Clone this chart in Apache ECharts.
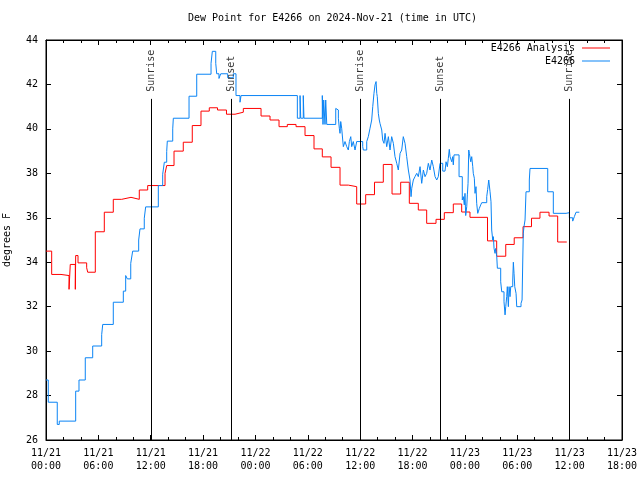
<!DOCTYPE html>
<html>
<head>
<meta charset="utf-8">
<script src="https://cdn.jsdelivr.net/npm/echarts@6/dist/echarts.min.js"></script>
<style>html,body{margin:0;padding:0;background:#fff}#c{width:640px;height:480px}</style>
</head>
<body>
<div id="c"></div>
<script>
// hours since 2024-11-21 00:00 UTC
const xTickDates = ['11/21','11/21','11/21','11/21','11/22','11/22','11/22','11/22','11/23','11/23','11/23','11/23'];
const xTickTimes = ['00:00','06:00','12:00','18:00','00:00','06:00','12:00','18:00','00:00','06:00','12:00','18:00'];

const analysisHours = [0,0.65,1.72,2.64,2.78,3.36,3.40,3.67,4.66,4.78,5.65,6.68,7.71,8.67,9.74,10.69,11.65,13.64,13.83,14.67,15.73,16.76,17.76,18.71,19.65,20.68,21.66,22.61,24.64,25.67,26.70,27.65,28.65,29.68,30.71,31.66,32.66,33.69,34.64,35.60,36.63,37.64,38.65,39.65,40.64,41.63,42.66,43.62,44.69,45.64,46.67,47.63,48.58,50.59,51.64,52.68,53.65,54.66,55.63,56.60,57.64,58.63,59.67];
const analysisValues = [34.5,33.45,33.4,32.78,33.9,32.78,34.3,33.97,33.75,33.55,35.37,36.25,36.83,36.92,36.83,37.25,37.45,38.0,38.35,39.0,39.4,40.15,40.8,40.95,40.85,40.66,40.75,40.92,40.58,40.4,40.1,40.2,40.1,39.7,39.1,38.74,38.27,37.47,37.4,36.62,37.04,37.6,38.4,37.07,37.6,36.65,36.35,35.75,35.93,36.23,36.62,36.26,36.02,34.96,34.27,34.8,35.1,35.6,35.98,36.25,36.08,34.91,34.91];

const obsHours = [0,0.26,1.29,1.52,3.40,3.78,4.50,5.35,6.38,6.50,7.71,8.86,9.13,9.32,9.71,9.93,10.62,10.77,11.26,11.42,12.87,13.37,13.56,13.83,13.90,14.52,14.59,16.39,17.27,18.91,19.06,19.45,19.56,19.82,20.02,20.82,21.46,21.77,22.23,22.35,28.80,29.11,29.19,29.48,29.56,31.66,31.74,31.82,31.97,32.05,32.17,33.20,33.31,33.50,33.61,33.69,33.77,33.88,34.00,34.07,34.26,34.46,34.64,34.76,34.92,35.03,35.21,35.41,35.60,36.29,36.36,36.75,36.93,37.13,37.32,37.44,37.58,37.70,37.82,37.90,37.96,38.08,38.19,38.27,38.47,38.58,38.73,38.85,39.04,39.23,39.42,39.61,39.80,39.99,40.19,40.37,40.57,40.76,40.94,41.14,41.33,41.52,41.71,41.83,41.91,42.09,42.28,42.48,42.66,42.86,43.05,43.24,43.43,43.62,43.81,44.00,44.20,44.38,44.58,44.77,44.95,45.15,45.46,45.72,45.84,45.99,46.10,46.21,46.30,46.37,46.49,46.60,46.67,46.75,47.33,47.70,47.82,47.93,48.01,48.09,48.21,48.28,48.36,48.44,48.51,48.59,48.67,48.78,48.90,48.96,49.08,49.16,49.27,49.35,49.47,49.58,49.65,49.81,49.93,50.50,50.61,50.73,50.88,50.99,51.07,51.19,51.26,51.34,51.45,51.53,51.65,51.72,52.10,52.22,52.48,52.60,52.68,52.79,52.86,52.98,53.06,53.17,53.25,53.48,53.55,53.63,53.71,53.86,53.94,54.43,54.55,54.63,54.69,54.77,54.89,55.00,55.38,55.46,57.49,58.13,59.59,59.97,60.35,60.54,60.73,61.11];
const obsValues = [28.7,27.7,26.7,26.85,28.2,28.7,29.7,30.23,30.74,31.2,32.2,32.7,33.4,33.25,33.95,34.5,35.0,35.5,35.98,36.49,37.45,37.96,38.5,38.98,39.45,40.0,40.48,41.47,42.46,42.95,43.49,42.95,42.48,42.27,42.48,42.3,42.48,41.5,41.2,41.5,40.48,41.5,40.48,41.5,40.48,41.5,40.2,41.3,40.2,41.3,40.2,40.92,40.85,40.48,40.03,39.8,40.33,40.03,39.5,39.2,39.43,39.2,39.05,39.43,39.65,39.2,39.43,39.05,39.43,39.2,39.05,39.43,39.65,40.03,40.4,41.0,41.6,41.98,42.13,41.6,41.45,40.7,40.4,40.25,39.95,39.5,39.35,39.8,39.2,39.65,39.05,39.65,39.35,38.75,38.45,38.15,38.9,39.05,39.65,39.35,38.75,38.15,37.7,36.95,37.33,37.7,37.85,38.0,37.85,38.3,37.55,38.15,37.85,38.0,38.45,38.15,38.6,38.3,37.85,37.7,37.85,38.45,38.1,38.15,38.52,38.3,38.67,39.08,38.75,38.67,38.52,38.75,38.38,38.83,37.85,36.8,36.95,36.58,37.1,36.1,36.5,37.03,37.55,39.05,38.9,38.98,38.52,38.75,38.3,38.0,37.78,37.1,37.4,36.65,36.2,36.27,36.42,36.58,36.68,36.95,37.28,37.7,37.17,36.72,35.45,35.0,35.15,34.62,34.4,34.62,34.25,33.73,33.12,32.67,32.22,31.63,32.0,32.45,32.9,32.0,32.9,32.45,32.9,33.2,34.0,33.5,32.9,32.6,32.0,32.15,32.3,34.1,35.3,35.6,35.9,37.17,37.7,38.22,37.17,36.2,36.23,36.0,35.85,36.05,36.25,36.25];

const sunHours = [12.03, 21.2, 36.05, 45.18, 60.0];
const sunNames = ['Sunrise','Sunset','Sunrise','Sunset','Sunrise'];
const yTicks = [26,28,30,32,34,36,38,40,42,44];

const FONT = 'DejaVu Sans Mono';
const zip = (a, b) => a.map((h, i) => [h, b[i]]);

const chart = echarts.init(document.getElementById('c'), null, {renderer: 'canvas'});
const xBase = {
  type: 'value', min: 0, max: 66, interval: 6,
  axisLine: {show: true, onZero: false, lineStyle: {color: '#000', width: 1}},
  axisTick: {show: true, inside: true, length: 5, lineStyle: {color: '#000'}},
  minorTick: {show: true, splitNumber: 3, length: 3, lineStyle: {color: '#000'}},
  splitLine: {show: false}
};
const yBase = {
  type: 'value', min: yTicks[0], max: yTicks[yTicks.length - 1], interval: 2,
  axisLine: {show: true, onZero: false, lineStyle: {color: '#000', width: 1}},
  axisTick: {show: true, inside: true, length: 5, lineStyle: {color: '#000'}},
  splitLine: {show: false}
};
const legendBase = {
  right: 30, padding: 0, align: 'right', icon: 'rect', itemWidth: 28, itemHeight: 1,
  textStyle: {fontFamily: FONT, fontSize: 10, color: '#000', padding: [0, 2, 0, 0]}
};
chart.setOption({
  animation: false,
  backgroundColor: '#fff',
  title: {
    text: 'Dew Point for E4266 on 2024-Nov-21 (time in UTC)',
    left: 188, top: 13, padding: 0,
    textStyle: {fontFamily: FONT, fontSize: 10, fontWeight: 'normal', color: '#000'}
  },
  grid: {left: 46, right: 18, top: 40, bottom: 40, containLabel: false, outerBoundsMode: 'none',
    show: true, borderColor: '#000', borderWidth: 1, backgroundColor: 'transparent'},
  legend: [
    Object.assign({data: ['E4266 Analysis'], top: 43}, legendBase),
    Object.assign({data: ['E4266'], top: 56}, legendBase)
  ],
  xAxis: [
    Object.assign({}, xBase, {position: 'bottom',
      axisLabel: {show: true, margin: 7, fontFamily: FONT, fontSize: 10, color: '#000', lineHeight: 13,
        formatter: v => { const i = Math.round(v / 6); return xTickDates[i] + '\n' + xTickTimes[i]; }}}),
    Object.assign({}, xBase, {position: 'top', axisLabel: {show: false}})
  ],
  yAxis: [
    Object.assign({}, yBase, {position: 'left', name: 'degrees F', nameLocation: 'middle', nameGap: 34, nameRotate: 90,
      nameTextStyle: {fontFamily: FONT, fontSize: 10, color: '#000'},
      axisLabel: {show: true, margin: 8, fontFamily: FONT, fontSize: 10, color: '#000'}}),
    Object.assign({}, yBase, {position: 'right', axisLabel: {show: false}})
  ],
  series: [
    {
      name: 'E4266 Analysis', type: 'line', step: 'end', symbol: 'none', xAxisIndex: 0, yAxisIndex: 0,
      data: zip(analysisHours, analysisValues),
      lineStyle: {color: '#ff0000', width: 1}, itemStyle: {color: '#ff0000'}, z: 3
    },
    {
      name: 'E4266', type: 'line', step: 'end', symbol: 'none', xAxisIndex: 0, yAxisIndex: 0,
      data: zip(obsHours, obsValues),
      lineStyle: {color: '#0a84f5', width: 1}, itemStyle: {color: '#0a84f5'}, z: 4
    },
    {
      name: 'sun', type: 'scatter', xAxisIndex: 0, yAxisIndex: 0, symbolSize: 0, silent: true, z: 5,
      data: sunHours.map((h, i) => ({value: [h, 41.67], name: sunNames[i]})),
      label: {show: true, position: [0, 0], rotate: 90, align: 'left', verticalAlign: 'middle',
        formatter: p => p.name, fontFamily: FONT, fontSize: 10, color: '#000'},
      markLine: {
        silent: true, symbol: ['none', 'none'], animation: false,
        label: {show: false},
        lineStyle: {color: '#000', width: 1, type: 'solid'},
        data: sunHours.map(h => [{coord: [h, 26]}, {coord: [h, 41.35]}])
      }
    }
  ]
});
</script>
</body>
</html>
